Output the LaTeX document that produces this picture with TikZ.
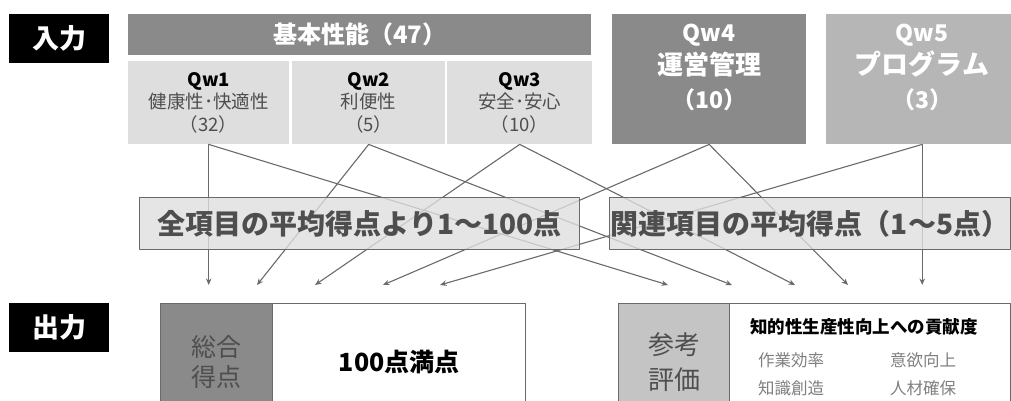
\documentclass[tikz,border=0pt]{standalone}
\usepackage{fontspec}
\setmainfont{Noto Sans CJK JP}
\usetikzlibrary{arrows.meta}
\definecolor{dk}{HTML}{8A8A8A}
\definecolor{md}{HTML}{B6B6B6}
\definecolor{lt}{HTML}{DEDEDE}
\definecolor{ref}{HTML}{C4C4C4}
\definecolor{ln}{HTML}{6A6A6A}
\definecolor{tx}{HTML}{4E4E4E}
\newcommand{\fsz}[2]{\fontsize{#1}{#2}\selectfont}
\begin{document}
\begin{tikzpicture}[x=1pt, y=-1pt, line join=round, line cap=round,
  >={Stealth[length=6.5pt,width=5.5pt]},
  cell/.style={inner sep=0pt, anchor=north west},
  tag/.style={cell, fill=black, text=white, minimum width=100pt, minimum height=49pt, font=\bfseries\fsz{27}{30}},
  qcell/.style={cell, fill=lt, minimum height=83pt, align=center, text=tx, font=\fsz{18.5}{22.5}},
  mid/.style={cell, fill=lt, fill opacity=0.8, text opacity=1, draw=ln, line width=1pt,
    minimum height=52pt, text=tx, font=\bfseries\fsz{28}{30}},
  outbox/.style={cell, draw=ln, line width=1.3pt, minimum height=116pt, align=center},
  item/.style={text=gray, font=\fsz{16.5}{18}},
  link/.style={draw=ln, line width=1.1pt, ->}]
\useasboundingbox (0,0) rectangle (1011,401);
\clip (0,0) rectangle (1011,401);
\node[tag] (in) at (9,14) {入力};
\node[tag] (out) at (9,303) {出力};
\node[cell, fill=dk, text=white, minimum width=463pt, minimum height=41pt, font=\bfseries\fsz{24}{26}] (kihon) at (128,14) {基本性能（47）};
\node[qcell, minimum width=161pt] (qw1) at (128,61) {\textcolor{black}{\bfseries Qw1}\\健康性･快適性\\（32）};
\node[qcell, minimum width=153pt] (qw2) at (292,61) {\textcolor{black}{\bfseries Qw2}\\利便性\\（5）};
\node[qcell, minimum width=145pt] (qw3) at (447,61) {\textcolor{black}{\bfseries Qw3}\\安全･安心\\（10）};
\node[cell, fill=dk, minimum width=194pt, minimum height=130pt] (qw4) at (612,14) {};
\node[text=white, align=center, font=\bfseries\fsz{26}{33.5}] (qw4t) at (709,67) {{\fsz{23}{33.5}Qw4}\\運営管理\\{\fsz{23}{33.5}（10）}};
\node[cell, fill=md, minimum width=192pt, minimum height=130pt] (qw5) at (826,14) {};
\node[text=white, align=center, font=\bfseries\fsz{27}{33.5}] (qw5t) at (922,67) {{\fsz{23}{33.5}Qw5}\\プログラム\\{\fsz{23}{33.5}（3）}};
\foreach \n/\x in {2/257,3/315,4/383,5/440} \coordinate (t\n) at (\x,285);
\foreach \n/\x in {1/668,2/732,3/795,4/848} \coordinate (r\n) at (\x,285);
\coordinate (t1) at (qw1.south |- t2);
\coordinate (r5) at (qw5.south |- t2);
\foreach \i in {1,...,5} {
  \draw[link] (qw\i.south) -- (t\i);
  \draw[link] (qw\i.south) -- (r\i);
}
\node[mid, minimum width=440pt] (zen) at (139,197) {全項目の平均得点より1〜100点};
\node[mid, minimum width=401pt] (kan) at (609,197) {関連項目の平均得点（1〜5点）};
\node[outbox, fill=dk, minimum width=112pt, text=tx, font=\fsz{25}{30}] (sogo) at (160,303) {総合\\得点};
\node[outbox, fill=white, minimum width=253pt, font=\bfseries\fsz{25}{28}] (manten) at (272,303) {100点満点};
\node[outbox, fill=ref, minimum width=111pt, text=tx, font=\fsz{26}{35}] (sanko) at (618,303) {参考\\評価};
\node[outbox, fill=white, minimum width=281pt] (kouken) at (729,303) {};
\node[font=\bfseries\fsz{17.5}{20}] (chiteki) at (864,327) {知的性生産性向上への貢献度};
\node[item] (sagyo) at (791,360) {作業効率};
\node[item] (iyoku) at (923,360) {意欲向上};
\node[item] (chishiki) at (791,388) {知識創造};
\node[item] (jinzai) at (923,388) {人材確保};
\end{tikzpicture}
\end{document}
